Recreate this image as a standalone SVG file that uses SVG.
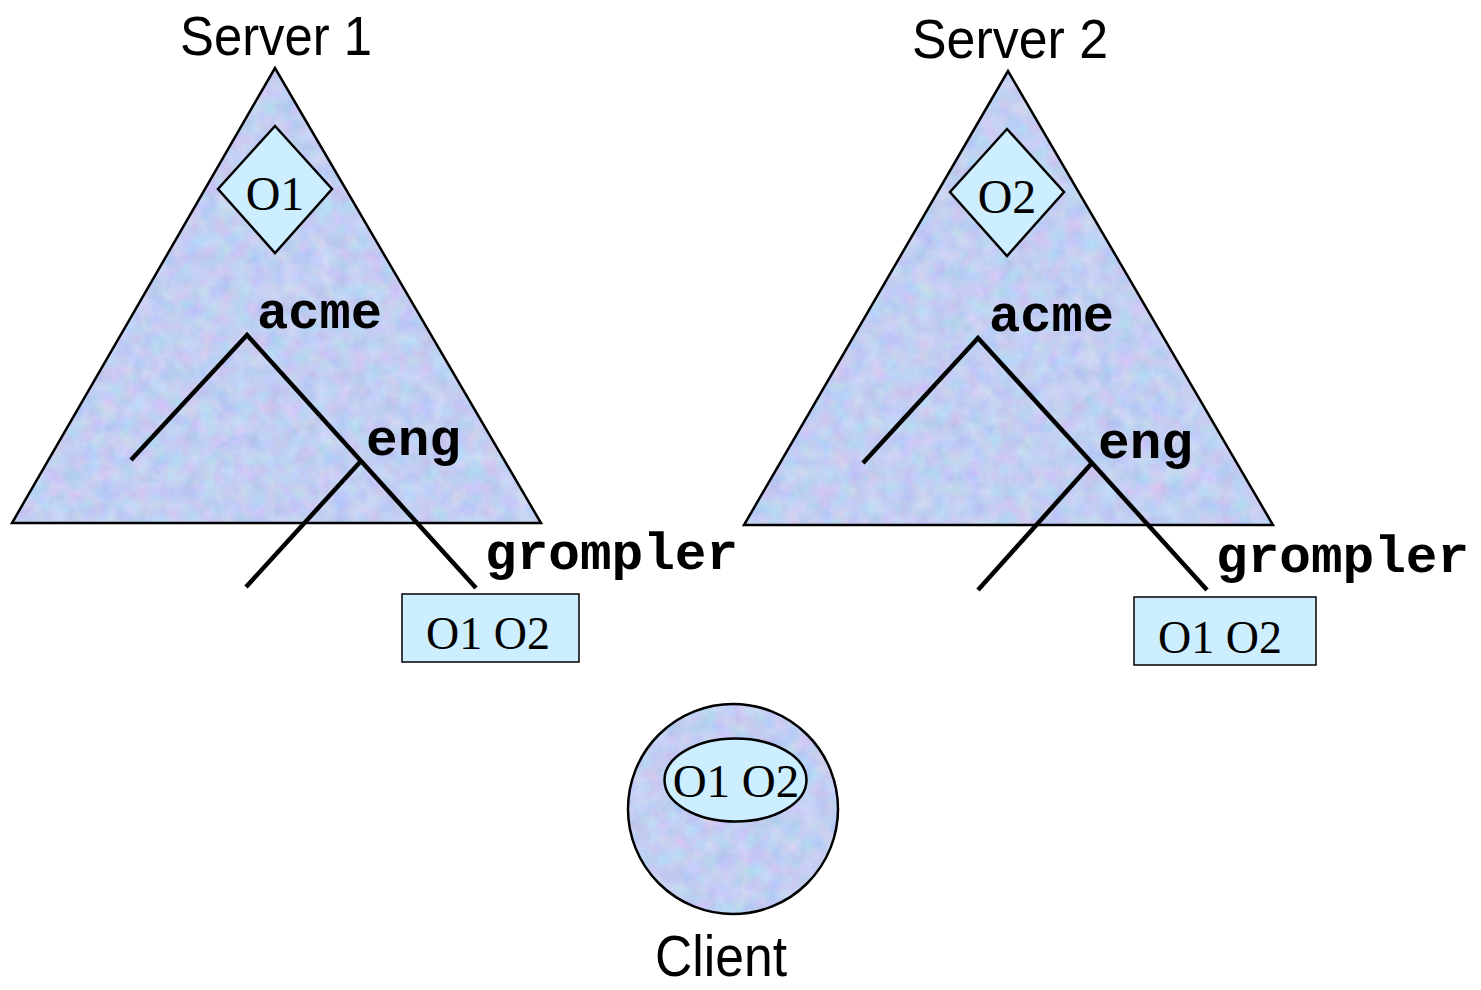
<svg xmlns="http://www.w3.org/2000/svg" width="1481" height="990" viewBox="0 0 1481 990">
<style>
.title{font-family:"Liberation Sans",Arial,sans-serif;fill:#000}
.mono{font-family:"Liberation Mono","Courier New",monospace;font-weight:bold;font-size:52px;fill:#000}
.serif{font-family:"Liberation Serif","Times New Roman",serif;fill:#000}
.tri{fill:none;stroke:#000;stroke-width:2.5}
.node{fill:#cdeeff;stroke:#000;stroke-width:2.5}
.box{fill:#cdeeff;stroke:#000;stroke-width:1.5}
.edge{stroke:#000;stroke-width:4.5;fill:none}
</style>
<defs>
<filter id="tex" x="0" y="0" width="100%" height="100%" color-interpolation-filters="sRGB">
<feTurbulence type="fractalNoise" baseFrequency="0.06" numOctaves="3" seed="7" result="n"/>
<feColorMatrix in="n" type="matrix" values="0.22 0 0 0 0.65  0 0.16 0 0 0.73  0 0 0.1 0 0.9  0 0 0 0 1" result="c"/>
<feComposite in="c" in2="SourceGraphic" operator="in"/>
</filter>
</defs>
<rect width="1481" height="990" fill="#fff"/>

<g id="server1">
<polygon points="275,68 12,523 541,523" fill="#c5cdf3" filter="url(#tex)"/>
<polygon class="tri" points="275,68 12,523 541,523"/>
<text class="title" x="180" y="55" font-size="56" textLength="192" lengthAdjust="spacingAndGlyphs">Server 1</text>
</g>
<g id="server2">
<polygon points="1008,71 744,525 1273,525" fill="#c5cdf3" filter="url(#tex)"/>
<polygon class="tri" points="1008,71 744,525 1273,525"/>
<text class="title" x="912" y="58" font-size="56" textLength="196" lengthAdjust="spacingAndGlyphs">Server 2</text>
</g>

<g id="connectors">
<polyline class="edge" points="131,460 247,335 361,461 476,588"/>
<polyline class="edge" points="361,461 246,587"/>
<polyline class="edge" points="863,463 978,338 1092,463 1207,590"/>
<polyline class="edge" points="1092,463 978,590"/>
</g>

<g id="o1-diamond">
<polygon class="node" points="275,126 332,189 275,253 218,189"/>
<text class="serif" x="275" y="210" font-size="48" text-anchor="middle">O1</text>
</g>
<g id="o2-diamond">
<polygon class="node" points="1007,129 1064,192 1007,256 950,192"/>
<text class="serif" x="1007" y="213" font-size="48" text-anchor="middle">O2</text>
</g>

<g id="s1-acme"><text class="mono" x="257" y="328" textLength="125" lengthAdjust="spacingAndGlyphs">acme</text></g>
<g id="s1-eng"><text class="mono" x="366" y="455" textLength="95" lengthAdjust="spacingAndGlyphs">eng</text></g>
<g id="s1-grompler"><text class="mono" x="485" y="569" textLength="253" lengthAdjust="spacingAndGlyphs">grompler</text></g>
<g id="s2-acme"><text class="mono" x="989" y="331" textLength="125" lengthAdjust="spacingAndGlyphs">acme</text></g>
<g id="s2-eng"><text class="mono" x="1098" y="458" textLength="95" lengthAdjust="spacingAndGlyphs">eng</text></g>
<g id="s2-grompler"><text class="mono" x="1216" y="572" textLength="253" lengthAdjust="spacingAndGlyphs">grompler</text></g>

<g id="s1-box">
<rect class="box" x="402" y="594" width="177" height="68"/>
<text class="serif" x="488" y="649" font-size="46" text-anchor="middle">O1 O2</text>
</g>
<g id="s2-box">
<rect class="box" x="1134" y="597" width="182" height="68"/>
<text class="serif" x="1220" y="653" font-size="46" text-anchor="middle">O1 O2</text>
</g>

<g id="client">
<circle cx="733" cy="809" r="105" fill="#c5cdf3" filter="url(#tex)"/>
<circle cx="733" cy="809" r="105" class="tri"/>
<ellipse class="node" cx="735.5" cy="780" rx="71" ry="41.5"/>
<text class="serif" x="736" y="797" font-size="47" text-anchor="middle">O1 O2</text>
<text class="title" x="655" y="976" font-size="58" textLength="132" lengthAdjust="spacingAndGlyphs">Client</text>
</g>
</svg>
